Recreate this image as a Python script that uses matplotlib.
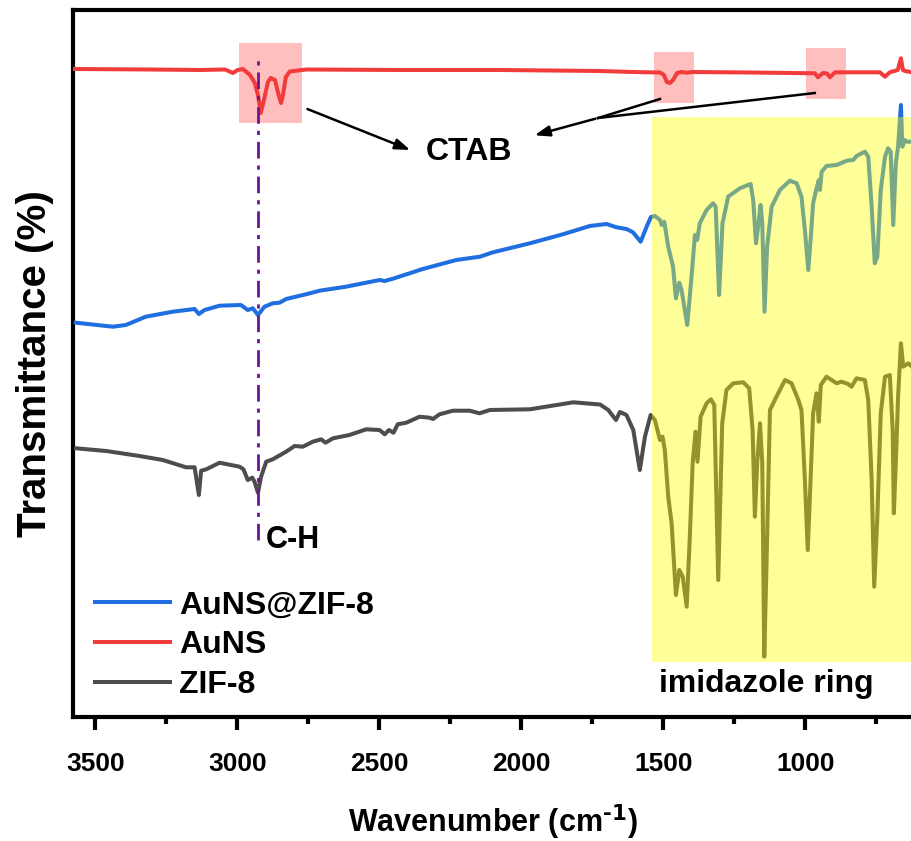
import matplotlib
matplotlib.use("Agg")
import matplotlib.pyplot as plt
from matplotlib.patches import Rectangle

plt.rcParams['font.family'] = ['Liberation Sans', 'DejaVu Sans']
plt.rcParams['font.weight'] = 'bold'
plt.rcParams['mathtext.default'] = 'bf'

# ---------------- data (wavenumber cm-1, transmittance a.u.) ----------------
aun_w = [3571, 3307, 3131, 3043, 3015, 2998, 2980, 2955, 2938, 2927, 2917, 2906, 2892,
         2882, 2867, 2857, 2846, 2839, 2829, 2815, 2758, 2427, 2075, 1723, 1607, 1512,
         1498, 1488, 1477, 1466, 1452, 1435, 1417, 1400, 1195, 967, 956, 938, 924, 914,
         896, 738, 720, 703, 675, 664, 657, 650, 625]
aun_t = [648, 647.5, 647, 647.5, 644, 647, 648, 642, 634, 622, 604, 617, 635,
         639, 637, 625, 614, 622, 640, 645.5, 647.5, 647, 647, 646, 645, 644.5,
         642, 635, 634, 637, 644, 645, 644.3, 645, 644.5, 643.7, 639.7, 644, 643.5, 639.7,
         644.7, 644.7, 640.3, 644.7, 647, 658.7, 647, 646, 644.7]

azif_w = [3568, 3438, 3392, 3322, 3227, 3150, 3135, 3115, 3062, 2987, 2963, 2945, 2927,
          2904, 2875, 2851, 2828, 2758, 2710, 2617, 2499, 2481, 2452, 2347, 2229, 2146,
          2100, 1970, 1854, 1759, 1700, 1665, 1630, 1607, 1580, 1559, 1544, 1530, 1512,
          1506, 1497, 1483, 1466, 1456, 1444, 1436, 1416, 1401, 1389, 1381, 1372, 1348,
          1325, 1316, 1304, 1292, 1272, 1231, 1193, 1184, 1174, 1166, 1158, 1152, 1144,
          1135, 1119, 1090, 1055, 1031, 1014, 1002, 990, 982, 973, 961, 953, 949, 943,
          926, 890, 855, 832, 820, 791, 779, 767, 756, 747, 735, 720, 709, 700, 691, 682,
          674, 664, 659, 650, 642, 625]
azif_t = [394.3, 390.3, 392, 400.3, 405.3, 408, 403, 407, 411.3, 412, 407, 408.7, 402,
          410.3, 413.7, 414.3, 418, 422.7, 426.3, 430.3, 437, 436, 438.3, 448, 457, 460.3,
          464.7, 473.7, 482.7, 491, 493, 489.7, 488, 484.7, 475.3, 490.3, 500, 501, 497,
          492, 495.3, 470.3, 450.3, 418.7, 434.3, 427, 392, 440.3, 482, 477, 493.7, 507,
          513.7, 510.3, 422, 493.7, 520.3, 528.7, 533, 517, 473.7, 492, 512, 493.7, 405.3,
          470.3, 510.3, 527, 536.3, 533.7, 520.3, 487, 447, 477, 513.7, 528.7, 537, 527, 545.3,
          551, 552, 556.3, 557, 561, 565.3, 560.3, 510.3, 453.7, 460.3, 527, 560.3, 568.7, 565.3, 492, 553.7,
          570.3, 612, 570.3, 577, 575.3, 575.3]

zif_w = [3567, 3461, 3344, 3262, 3180, 3150, 3135, 3127, 3109, 3062, 2992, 2978, 2963,
         2947, 2939, 2927, 2916, 2898, 2875, 2828, 2798, 2769, 2734, 2705, 2689, 2663,
         2605, 2546, 2499, 2481, 2466, 2450, 2435, 2405, 2358, 2323, 2311, 2288, 2241,
         2182, 2147, 2111, 1970, 1817, 1723, 1694, 1667, 1653, 1630, 1606, 1583, 1565,
         1545, 1530, 1512, 1503, 1495, 1483, 1471, 1456, 1444, 1432, 1418, 1407, 1397,
         1387, 1380, 1369, 1348, 1333, 1321, 1307, 1293, 1278, 1254, 1219, 1198, 1186,
         1178, 1170, 1160, 1152, 1145, 1137, 1125, 1102, 1072, 1049, 1025, 1014, 1002,
         992, 982, 973, 961, 953, 946, 926, 890, 873, 850, 838, 820, 791, 779, 767, 758,
         747, 735, 720, 703, 693, 689, 682, 674, 664, 656, 638, 625]
zif_t = [268.7, 266, 261, 257, 249.7, 249.7, 222, 246.3, 247.7, 254.3, 250.3, 247.7, 237,
         239.3, 235.3, 224.3, 240.3, 255.3, 257.7, 265.3, 271, 270.3, 275.3, 277.7, 274.3, 278.7,
         282, 287.7, 287, 282.7, 287, 284.3, 292.7, 294.3, 300.3, 299.3, 298, 302.7, 306.3,
         306.3, 303.7, 307, 307.7, 314.7, 312.5, 307, 297, 305, 302, 287, 247, 280.3,
         302, 297, 277, 280.3, 267, 220.3, 193.7, 122, 147, 140.3, 110.3, 180.3, 253.7,
         285.3, 255.3, 300.3, 313.7, 317.7, 312, 137, 293.7, 327, 333.7, 334.7, 328.7, 287,
         200.3, 253.7, 293.7, 253.7, 60.3, 153.7, 307, 320.3, 337, 333.7, 317, 307, 237,
         167, 237, 303.7, 323.7, 295.3, 332, 340.3, 333.7, 335.3, 333, 330.3, 338.7, 337, 317, 237, 130.3,
         200.3, 303.7, 340.3, 342, 287, 203.7, 253.7, 320.3, 373.7, 350.3, 353.7, 350.3]

series_labels = ['AuNS@ZIF-8', 'AuNS', 'ZIF-8']
series_colors = ['#1f6fe0', '#f23c3c', '#4d4d4d']

x_ticks = [3500, 3000, 2500, 2000, 1500, 1000]
x_minor = [3250, 2750, 2250, 1750, 1250, 750]

# ---------------- figure ----------------
W, H = 912, 841
fig = plt.figure(figsize=(W / 100, H / 100), dpi=100)
ax = fig.add_axes([73 / W, (H - 717) / H, (912 - 73) / W, (717 - 10) / H])

lw = 2.9
ax.plot(azif_w, azif_t, color=series_colors[0], lw=lw, label=series_labels[0], zorder=3,
        solid_joinstyle='round')
ax.plot(aun_w, aun_t, color=series_colors[1], lw=lw, label=series_labels[1], zorder=3,
        solid_joinstyle='round')
ax.plot(zif_w, zif_t, color=series_colors[2], lw=lw, label=series_labels[2], zorder=3,
        solid_joinstyle='round')

ax.set_xlim(3578, 625)
ax.set_ylim(0, 707)

# highlight boxes
ax.add_patch(Rectangle((2773, 594), 2995 - 2773, 674 - 594, facecolor='#ffbfbf',
                       edgecolor='none', zorder=1))
ax.add_patch(Rectangle((1393, 614), 1533 - 1393, 665 - 614, facecolor='#ffbfbf',
                       edgecolor='none', zorder=1))
ax.add_patch(Rectangle((859, 618), 999 - 859, 669 - 618, facecolor='#ffbfbf',
                       edgecolor='none', zorder=1))
ax.add_patch(Rectangle((600, 55), 1540 - 600, 600 - 55, facecolor='#ffff00', alpha=0.4,
                       edgecolor='none', zorder=4))

# C-H dash-dot line
ax.plot([2927, 2927], [177, 662], color='#6d1590', lw=2.0,
        linestyle=(0, (6, 2.5, 1.5, 2.5)), zorder=5)

# CTAB annotations
ax.text(2183, 565, 'CTAB', ha='center', va='center', fontsize=23, fontweight='bold', zorder=6)
arrow_kw = dict(arrowstyle='-|>,head_length=0.9,head_width=0.32', color='black', lw=1.8)
ax.annotate('', xy=(2382, 566), xytext=(2762, 609), arrowprops=arrow_kw, zorder=6)
ax.plot([1512, 1730], [618, 599], color='black', lw=1.8, zorder=6)
ax.plot([967, 1730], [624, 599], color='black', lw=1.8, zorder=6)
ax.annotate('', xy=(1963, 581), xytext=(1730, 599), arrowprops=arrow_kw, zorder=6)

ax.text(2899, 177, 'C-H', ha='left', va='center', fontsize=22, fontweight='bold', zorder=6)
ax.text(1139, 33, 'imidazole ring', ha='center', va='center', fontsize=23,
        fontweight='bold', zorder=6)

# axes styling
for s in ['left', 'bottom', 'top']:
    ax.spines[s].set_linewidth(3)
ax.spines['right'].set_visible(False)
ax.set_yticks([])
ax.set_xticks(x_ticks)
ax.set_xticks(x_minor, minor=True)
ax.tick_params(axis='x', which='major', direction='out', length=9, width=3,
               labelsize=19, pad=16)
ax.tick_params(axis='x', which='minor', direction='out', length=5, width=3)
for lab in ax.get_xticklabels():
    lab.set_fontweight('bold')

ax.set_xlabel('Wavenumber (cm$^{\\text{-1}}$)', fontsize=22, fontweight='bold', labelpad=19)
ax.set_ylabel('Transmittance (%)', fontsize=29, fontweight='bold', labelpad=14)

leg = ax.legend(loc='upper left', bbox_to_anchor=(0.026, 0.179), frameon=False,
                fontsize=23, handlelength=2.35, handletextpad=0.3, labelspacing=0.31,
                borderaxespad=0, borderpad=0)
for t in leg.get_texts():
    t.set_fontweight('bold')

fig.savefig('out.png', dpi=100)
